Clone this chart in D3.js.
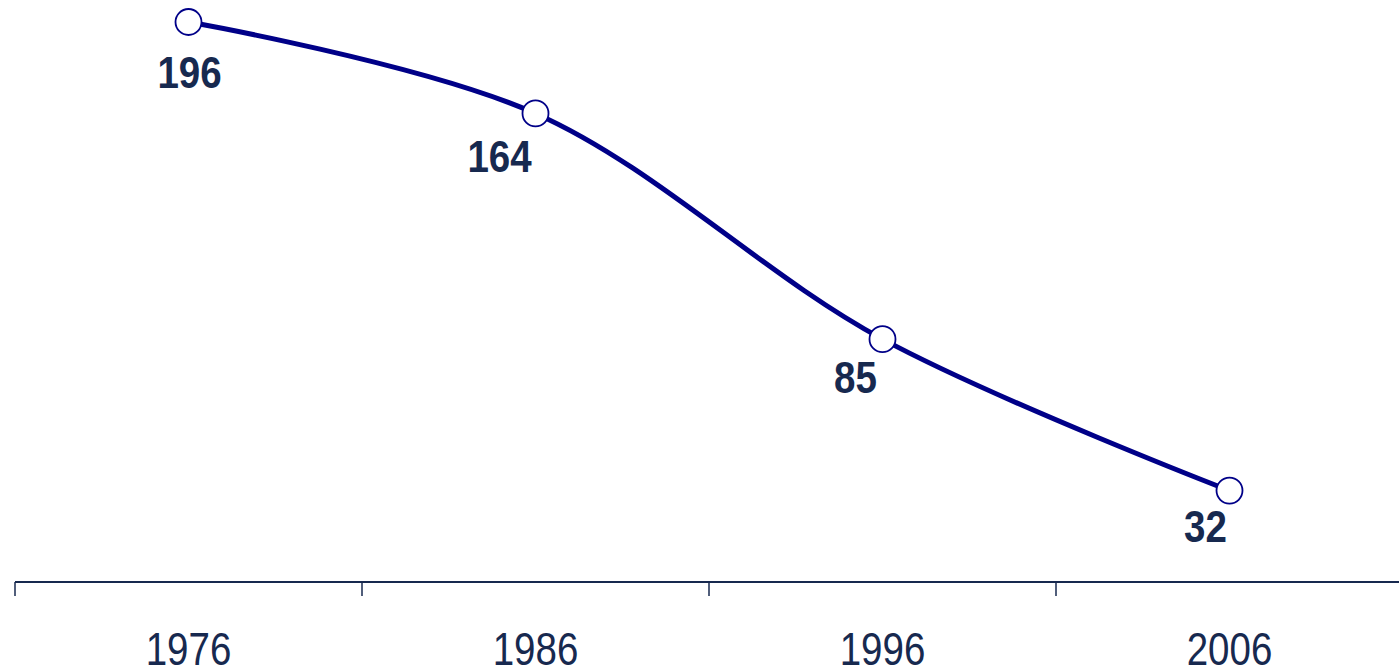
<!DOCTYPE html>
<html>
<head>
<meta charset="utf-8">
<script src="https://cdn.jsdelivr.net/npm/d3@7"></script>
<style>
    body { margin: 0; background: #fff; overflow: hidden; }
    text { font-family: "Liberation Sans", Arial, sans-serif; }
</style>
</head>
<body>
<div id="chart"></div>
<script>
// Data
const years = ["1976", "1986", "1996", "2006"];
const values = [196, 164, 85, 32];

// Dimensions
const width = 1399;
const height = 669;
const axisY = 582;
const ink = "#17294f";
const lineColor = "#000088";

const svg = d3.select("#chart")
    .append("svg")
    .attr("width", width)
    .attr("height", height);

// Scales
const x = d3.scaleBand()
    .domain(years)
    .range([15, 1403])
    .padding(0);

const y = d3.scaleLinear()
    .domain([0, 196])
    .range([axisY, 22]);

const cx = d => x(d) + x.bandwidth() / 2;

// X axis: ticks on band boundaries
const axis = svg.append("g").attr("class", "x-axis");
axis.append("line")
    .attr("x1", x.range()[0])
    .attr("x2", x.range()[1])
    .attr("y1", axisY)
    .attr("y2", axisY)
    .attr("stroke", ink)
    .attr("stroke-width", 2);

axis.selectAll(".tick")
    .data(years)
    .join("line")
    .attr("class", "tick")
    .attr("x1", d => x(d))
    .attr("x2", d => x(d))
    .attr("y1", axisY)
    .attr("y2", axisY + 14)
    .attr("stroke", ink)
    .attr("stroke-width", 1.5);

// the original text is stretched vertically, so scale it a bit
axis.selectAll(".tick-label")
    .data(years)
    .join("text")
    .attr("class", "tick-label")
    .attr("transform", d => `translate(${cx(d)},665) scale(1,1.22)`)
    .attr("text-anchor", "middle")
    .attr("fill", ink)
    .style("font-size", "38.5px")
    .text(d => d);

// Line
const points = years.map((yr, i) => ({year: yr, value: values[i]}));

const line = d3.line()
    .x(d => cx(d.year))
    .y(d => y(d.value))
    .curve(d3.curveCatmullRom.alpha(0.5));

svg.append("path")
    .datum(points)
    .attr("d", line)
    .attr("fill", "none")
    .attr("stroke", lineColor)
    .attr("stroke-width", 5)
    .attr("stroke-linejoin", "round");

// Markers
svg.selectAll(".marker")
    .data(points)
    .join("circle")
    .attr("class", "marker")
    .attr("cx", d => cx(d.year))
    .attr("cy", d => y(d.value))
    .attr("r", 13)
    .attr("fill", "#fff")
    .attr("stroke", lineColor)
    .attr("stroke-width", 1.8);

// Value labels (nudged like the original's manual placement)
const labelNudge = [[1, 66], [-36, 59], [-27, 54], [-24, 51]];

svg.selectAll(".value-label")
    .data(points)
    .join("text")
    .attr("class", "value-label")
    .attr("transform", (d, i) =>
        `translate(${cx(d.year) + labelNudge[i][0]},${y(d.value) + labelNudge[i][1]}) scale(1,1.16)`)
    .attr("text-anchor", "middle")
    .attr("fill", ink)
    .style("font-size", "38.5px")
    .style("font-weight", "bold")
    .text(d => d.value);
</script>
</body>
</html>
